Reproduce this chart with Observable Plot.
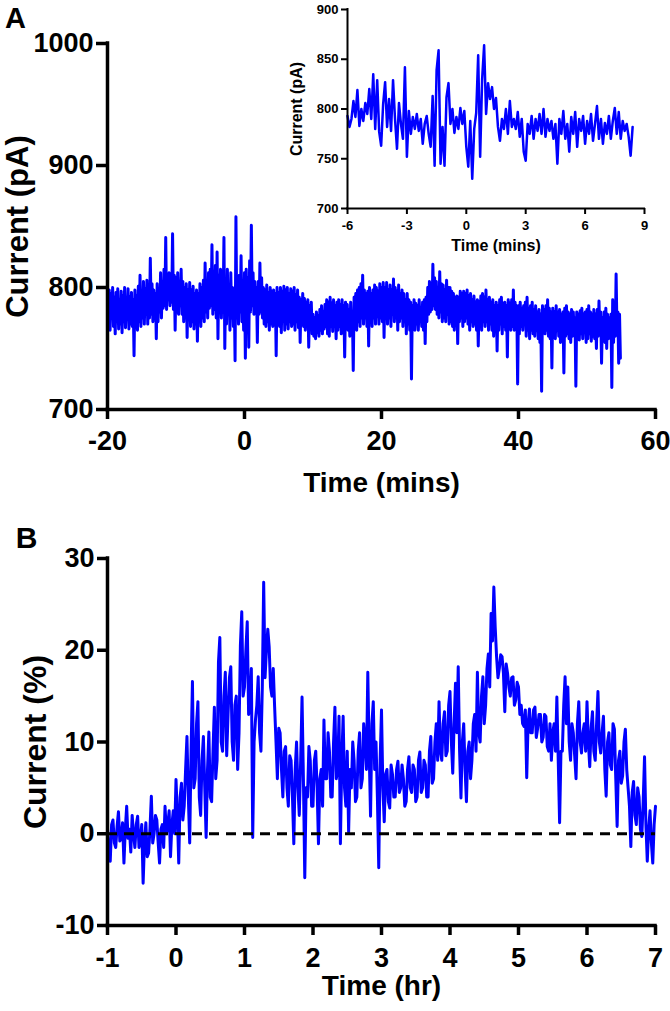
<!DOCTYPE html>
<html><head><meta charset="utf-8">
<script src="https://cdn.jsdelivr.net/npm/d3@7"></script>
<script src="https://cdn.jsdelivr.net/npm/@observablehq/plot@0.6"></script>
<style>
body{margin:0;background:#fff;}
#wrap{position:relative;width:670px;height:1011px;overflow:hidden;background:#fff;}
#wrap svg{position:absolute;overflow:visible;}
</style></head><body><div id="wrap"></div>
<script>
// ---------- Panel A (main): current (pA) vs time (mins), sampled every 0.125 min from -20 min ----------
const aTimeStart = -20, aTimeStep = 0.125;
const aCurrent = [
792,770,798,765,795,775,800,768,792,762,796,772,799,766,790,770,797,763,793,772,
800,767,789,775,799,766,792,770,796,768,790,744,798,770,793,765,801,772,810,768,
797,775,805,770,799,778,806,770,800,775,824,778,803,772,798,780,795,758,803,772,
798,780,812,775,805,783,815,785,841,782,808,790,812,785,805,788,844,782,810,765,
808,780,812,778,804,785,815,778,805,772,800,775,803,759,798,775,804,768,798,772,
801,766,795,770,798,756,795,772,803,768,800,775,806,772,820,780,805,775,812,783,
815,785,835,778,812,782,818,775,829,758,810,780,815,775,805,783,841,750,805,770,
815,778,800,765,812,775,800,768,795,740,858,775,800,770,810,780,826,772,805,765,
812,742,815,775,808,751,822,780,851,785,812,778,805,782,800,755,805,778,820,780,
808,775,800,770,798,768,802,772,796,765,800,770,797,768,798,772,795,744,800,770,
796,768,800,763,797,772,801,765,798,770,800,766,795,772,799,768,797,770,800,765,
794,772,798,767,792,755,790,770,795,768,791,765,788,770,790,751,785,768,788,762,
778,760,775,758,780,763,777,760,782,765,785,762,780,766,786,768,790,762,788,760,
792,768,787,764,790,770,785,758,788,765,790,768,786,762,790,767,785,743,788,768,
786,765,782,760,788,766,780,732,792,770,795,765,798,772,800,768,803,775,810,770,
798,775,795,768,797,752,800,772,795,768,798,775,802,770,800,776,797,770,803,775,
800,772,804,759,800,775,804,770,798,775,802,768,798,778,807,772,800,775,797,765,
802,772,795,775,798,768,795,772,790,762,795,770,790,765,788,725,785,768,790,765,
787,770,785,765,790,772,783,768,788,765,790,754,792,772,800,778,805,780,803,782,
819,785,808,782,805,778,800,775,813,780,803,772,802,775,798,772,806,778,800,770,
800,772,797,768,795,765,792,770,793,754,792,772,797,775,795,768,797,772,795,775,
798,770,793,765,795,772,790,768,793,770,788,765,790,752,788,770,793,765,795,772,
792,768,798,772,790,765,792,770,788,765,790,760,785,768,788,748,785,765,790,770,
792,762,787,768,788,765,785,743,790,770,787,765,790,768,798,765,788,770,785,721,
785,762,788,768,783,765,785,770,788,760,792,765,783,758,785,765,788,762,782,760,
785,765,780,758,782,755,778,715,785,765,782,762,785,765,790,760,783,758,780,734,
783,760,780,758,785,765,780,760,782,755,778,762,780,730,783,760,785,762,780,758,
778,755,782,760,780,762,775,719,780,760,778,757,781,762,783,758,778,765,780,755,
782,758,785,762,780,756,778,760,782,758,778,750,782,760,789,762,780,738,775,758,
780,755,783,750,778,758,775,760,778,718,790,755,785,760,811,765,780,738,778,742
];
const aXTicks = [-20, 0, 20, 40, 60];
const aYTicks = [700, 800, 900, 1000];

// ---------- Panel A inset: current (pA) vs time (mins), sampled every 0.1 min from -6 min ----------
const insetTimeStart = -6, insetTimeStep = 0.1;
const insetCurrent = [
793,782,790,808,792,819,783,800,788,806,
795,820,790,835,780,829,777,763,805,827,
782,810,778,829,790,760,806,785,770,842,
752,798,775,792,780,795,778,790,765,785,
793,775,762,813,743,839,859,745,782,743,
812,826,785,800,776,792,780,801,785,798,
762,742,788,730,780,796,854,752,830,864,
795,826,810,822,800,811,782,768,790,780,
800,775,808,782,790,780,797,772,790,757,
748,785,775,793,770,790,778,795,775,800,
772,790,778,788,770,785,745,790,775,798,
770,785,757,792,775,797,762,790,778,793,
765,788,775,795,768,785,803,770,790,765,
786,775,793,770,788,801,775,797,770,788,
778,785,772,753,782
];
const insetXTicks = [-6, -3, 0, 3, 6, 9];
const insetYTicks = [700, 750, 800, 850, 900];

// ---------- Panel B: current (%) vs time (hr), sampled every 0.02 hr from -1 hr ----------
const bTimeStart = -1, bTimeStep = 0.02;
const bCurrent = [
0.5,-2.0,-3.0,1.0,1.5,-1.0,-1.5,0.8,2.4,-0.8,-0.5,1.2,-3.2,0.5,3.0,-0.5,0.5,-2.0,2.0,0.0,
-1.5,1.0,1.9,-1.5,-0.5,1.0,-5.4,-1.0,1.2,-2.5,-2.1,0.5,4.1,-1.0,0.0,2.0,1.5,-1.0,-3.2,0.5,
1.0,-1.5,3.0,0.0,1.0,2.5,-2.5,1.0,2.5,0.0,5.9,2.0,-3.2,4.0,5.5,1.5,3.0,7.0,10.6,4.0,
-1.0,9.0,16.6,5.0,6.0,12.0,14.4,4.0,2.0,8.0,10.6,5.0,-0.4,7.0,11.1,4.0,3.5,9.0,13.8,6.0,
8.0,18.7,21.4,10.0,9.0,15.0,17.6,8.5,13.0,17.0,18.2,10.0,8.0,14.0,15.0,7.0,11.0,20.5,24.2,15.0,
16.0,20.0,23.1,13.0,14.0,18.0,-0.4,10.0,12.4,14.0,17.1,11.0,9.0,16.0,27.4,17.0,20.0,22.3,20.4,16.0,
15.0,18.0,13.8,10.0,6.0,11.5,11.0,7.0,4.0,9.0,9.5,5.0,3.0,8.5,8.0,4.0,-1.1,7.0,10.0,5.0,
2.0,8.0,14.9,6.0,-4.8,5.0,4.0,9.5,8.0,3.0,3.0,8.0,9.0,5.0,-1.1,6.0,7.0,3.0,12.4,6.0,
6.0,11.0,9.0,4.0,4.0,10.0,13.8,6.0,7.0,12.8,-1.1,8.0,12.8,5.0,3.0,9.0,0.2,7.0,5.0,10.0,
8.0,3.5,4.0,9.0,11.0,5.0,6.0,12.0,10.0,7.0,17.6,9.0,1.9,12.0,14.4,7.0,10.0,4.0,-3.7,8.0,
13.5,5.0,1.3,6.5,7.0,3.5,2.8,7.5,6.5,4.0,4.0,7.0,7.9,4.5,5.0,7.5,6.0,3.0,3.5,7.0,
8.4,5.0,4.5,7.5,7.0,3.5,4.0,8.0,8.9,4.5,5.0,8.0,7.5,4.0,4.0,9.0,10.6,5.5,6.0,10.0,
12.0,8.0,14.4,9.0,8.0,12.0,13.3,8.5,9.0,14.0,15.5,10.0,6.6,12.0,16.4,11.0,18.2,9.0,3.9,10.0,
12.0,7.0,3.5,9.0,10.0,6.0,8.0,12.0,13.0,9.0,17.6,11.0,10.0,15.0,17.1,12.0,14.0,18.0,19.6,16.0,
24.0,21.0,26.9,22.5,19.3,17.0,18.0,19.5,19.3,17.5,13.3,18.5,17.5,16.0,15.0,17.0,17.1,14.0,14.6,16.5,
16.0,13.0,14.0,12.0,11.7,13.5,6.1,12.0,13.6,11.0,11.0,13.5,13.8,10.5,11.5,13.0,13.0,10.0,10.5,13.0,
12.8,9.5,9.0,12.0,8.0,11.0,12.0,9.0,14.9,8.0,1.2,9.0,9.0,14.0,17.1,12.0,16.0,10.0,8.0,12.0,
11.0,8.5,6.0,12.0,14.4,10.0,8.8,11.0,12.0,9.0,14.4,10.0,7.3,11.5,13.3,9.0,8.0,12.0,15.5,10.0,
8.8,11.0,12.8,7.0,4.1,10.0,11.0,7.5,7.0,12.0,11.4,6.0,0.8,8.0,9.0,5.5,6.3,10.0,11.4,7.0,
5.0,3.0,-1.4,4.5,5.7,2.0,1.0,5.0,4.0,0.5,-0.3,3.5,8.4,1.0,-3.0,0.5,2.5,-1.0,-3.2,1.0,
3.0
];
const bXTicks = [-1, 0, 1, 2, 3, 4, 5, 6, 7];
const bYTicks = [-10, 0, 10, 20, 30];
const bBaseline = [0];

// ---------- build tables ----------
const aData = aCurrent.map((v, i) => ({t: aTimeStart + i * aTimeStep, v}));
const insetData = insetCurrent.map((v, i) => ({t: insetTimeStart + i * insetTimeStep, v}));
const bData = bCurrent.map((v, i) => ({t: bTimeStart + i * bTimeStep, v}));

const FONT = "'Liberation Sans', Arial, Helvetica, sans-serif";
const BLUE = "#0000ff";
const fmt = d => String(d);
const wrap = document.getElementById("wrap");
const label = (s, o) => Plot.text([s], {text: d => d, textAnchor: "middle", lineAnchor: "middle", fontWeight: "bold", ...o});

function place(svg, left, top) {
  svg.style.left = left + "px";
  svg.style.top = top + "px";
  wrap.appendChild(svg);
}

// Panel A main
const plotA = Plot.plot({
  width: 670, height: 500,
  marginLeft: 107, marginRight: 15, marginTop: 43, marginBottom: 91,
  x: {domain: [-20, 60]},
  y: {domain: [700, 1000]},
  style: {fontFamily: FONT, fontWeight: "bold", color: "black", background: "transparent", overflow: "visible"},
  marks: [
    Plot.line(aData, {x: "t", y: "v", stroke: BLUE, strokeWidth: 3}),
    Plot.ruleX([-20], {strokeWidth: 3.5, strokeLinecap: "square"}),
    Plot.ruleY([700], {strokeWidth: 3.5, strokeLinecap: "square"}),
    Plot.axisX({ticks: aXTicks, tickFormat: fmt, tickSize: 10, tickPadding: 11, strokeWidth: 3.5, fontSize: 27, fontWeight: "bold", label: null}),
    Plot.axisY({ticks: aYTicks, tickFormat: fmt, tickSize: 11, tickPadding: 3, strokeWidth: 3.5, fontSize: 27, fontWeight: "bold", label: null}),
    label("Current (pA)", {frameAnchor: "left", dx: -89, rotate: -90, fontSize: 31}),
    label("Time (mins)", {frameAnchor: "bottom", dy: 74, fontSize: 28}),
    label("A", {frameAnchor: "top-left", dx: -92, dy: -25, fontSize: 29})
  ]
});
place(plotA, 0, 0);

// Panel A inset
const plotInset = Plot.plot({
  width: 400, height: 260,
  marginLeft: 77, marginRight: 26, marginTop: 9, marginBottom: 52,
  x: {domain: [-6, 9]},
  y: {domain: [700, 900]},
  style: {fontFamily: FONT, fontWeight: "bold", color: "black", background: "transparent", overflow: "visible"},
  marks: [
    Plot.line(insetData, {x: "t", y: "v", stroke: BLUE, strokeWidth: 2.5}),
    Plot.ruleX([-6], {strokeWidth: 2, strokeLinecap: "square"}),
    Plot.ruleY([700], {strokeWidth: 2, strokeLinecap: "square"}),
    Plot.axisX({ticks: insetXTicks, tickFormat: fmt, tickSize: 6, tickPadding: 6, strokeWidth: 2, fontSize: 13, fontWeight: "bold", label: null}),
    Plot.axisY({ticks: insetYTicks, tickFormat: fmt, tickSize: 6, tickPadding: 3, strokeWidth: 2, fontSize: 13, fontWeight: "bold", label: null}),
    label("Current (pA)", {frameAnchor: "left", dx: -51, rotate: -90, fontSize: 16}),
    label("Time (mins)", {frameAnchor: "bottom", dy: 37, fontSize: 16})
  ]
});
place(plotInset, 270, 0);

// Panel B
const plotB = Plot.plot({
  width: 670, height: 511,
  marginLeft: 107, marginRight: 15, marginTop: 58, marginBottom: 86,
  x: {domain: [-1, 7]},
  y: {domain: [-10, 30]},
  style: {fontFamily: FONT, fontWeight: "bold", color: "black", background: "transparent", overflow: "visible"},
  marks: [
    Plot.line(bData, {x: "t", y: "v", stroke: BLUE, strokeWidth: 3}),
    Plot.ruleY(bBaseline, {strokeWidth: 3, strokeDasharray: "10,7"}),
    Plot.ruleX([-1], {strokeWidth: 3.5, strokeLinecap: "square"}),
    Plot.ruleY([-10], {strokeWidth: 3.5, strokeLinecap: "square"}),
    Plot.axisX({ticks: bXTicks, tickFormat: fmt, tickSize: 10, tickPadding: 12, strokeWidth: 3.5, fontSize: 27, fontWeight: "bold", label: null}),
    Plot.axisY({ticks: bYTicks, tickFormat: fmt, tickSize: 10, tickPadding: 3, strokeWidth: 3.5, fontSize: 27, fontWeight: "bold", label: null}),
    label("Current (%)", {frameAnchor: "left", dx: -72, rotate: -90, fontSize: 32}),
    label("Time (hr)", {frameAnchor: "bottom", dy: 61, fontSize: 28}),
    label("B", {frameAnchor: "top-left", dx: -81, dy: -20, fontSize: 30})
  ]
});
place(plotB, 0, 500);
</script></body></html>
